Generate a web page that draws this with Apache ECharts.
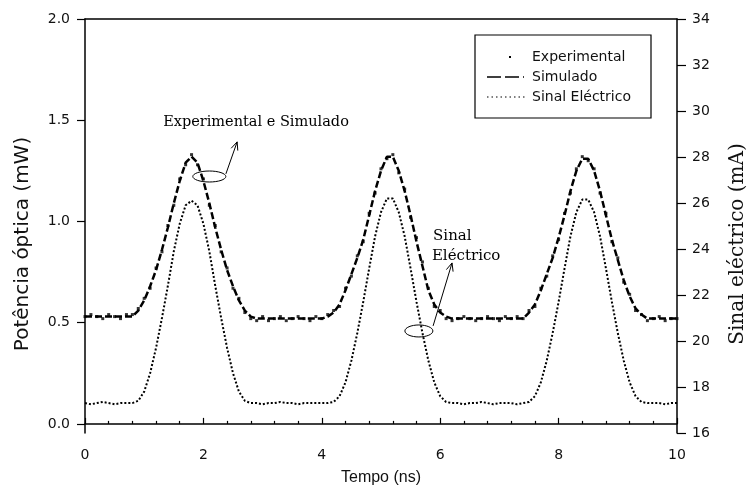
<!DOCTYPE html>
<html>
<head>
<meta charset="utf-8">
<script src="https://cdn.jsdelivr.net/npm/echarts@6/dist/echarts.min.js"></script>
<style>html,body{margin:0;padding:0;background:#fff;}#c{width:748px;height:497px;}</style>
</head>
<body>
<div id="c"></div>
<script>
// Time axis (ns)
var timeNs = [0.0,0.1,0.2,0.3,0.4,0.5,0.6,0.7,0.8,0.9,
  1.0,1.1,1.2,1.3,1.4,1.5,1.6,1.7,1.8,1.9,
  2.0,2.1,2.2,2.3,2.4,2.5,2.6,2.7,2.8,2.9,
  3.0,3.1,3.2,3.3,3.4,3.5,3.6,3.7,3.8,3.9,
  4.0,4.1,4.2,4.3,4.4,4.5,4.6,4.7,4.8,4.9,
  5.0,5.1,5.2,5.3,5.4,5.5,5.6,5.7,5.8,5.9,
  6.0,6.1,6.2,6.3,6.4,6.5,6.6,6.7,6.8,6.9,
  7.0,7.1,7.2,7.3,7.4,7.5,7.6,7.7,7.8,7.9,
  8.0,8.1,8.2,8.3,8.4,8.5,8.6,8.7,8.8,8.9,
  9.0,9.1,9.2,9.3,9.4,9.5,9.6,9.7,9.8,9.9,10.0];

// Experimental optical power (mW)
var experimental = [0.53,0.54,0.53,0.52,0.54,0.53,0.52,0.54,0.54,0.57,
  0.62,0.67,0.77,0.85,0.98,1.08,1.21,1.28,1.33,1.28,
  1.21,1.08,0.98,0.85,0.77,0.67,0.62,0.55,0.52,0.51,
  0.53,0.51,0.52,0.53,0.51,0.52,0.53,0.52,0.51,0.53,
  0.52,0.54,0.56,0.58,0.67,0.73,0.83,0.90,1.04,1.14,
  1.26,1.31,1.33,1.24,1.16,1.02,0.92,0.80,0.67,0.58,
  0.56,0.52,0.51,0.52,0.53,0.52,0.51,0.52,0.53,0.52,
  0.51,0.53,0.52,0.53,0.52,0.56,0.58,0.67,0.73,0.83,
  0.91,1.04,1.14,1.26,1.32,1.30,1.26,1.14,1.04,0.90,
  0.82,0.70,0.64,0.56,0.54,0.51,0.52,0.53,0.51,0.52,0.52];

// Simulated optical power (mW)
var simulado = [0.53,0.53,0.53,0.53,0.53,0.53,0.53,0.53,0.53,0.56,
  0.61,0.68,0.76,0.86,0.97,1.09,1.20,1.29,1.32,1.29,
  1.20,1.09,0.97,0.86,0.76,0.68,0.61,0.56,0.53,0.52,
  0.52,0.52,0.52,0.52,0.52,0.52,0.52,0.52,0.52,0.52,
  0.52,0.53,0.55,0.59,0.66,0.74,0.82,0.91,1.03,1.15,
  1.25,1.32,1.32,1.25,1.15,1.03,0.90,0.78,0.66,0.59,
  0.55,0.53,0.52,0.52,0.52,0.52,0.52,0.52,0.52,0.52,
  0.52,0.52,0.52,0.52,0.52,0.55,0.59,0.66,0.74,0.82,
  0.92,1.03,1.15,1.25,1.31,1.31,1.25,1.15,1.03,0.91,
  0.81,0.71,0.63,0.57,0.54,0.52,0.52,0.52,0.52,0.52,0.52];

// Electrical signal (mA)
var sinalElectrico = [17.3,17.25,17.3,17.35,17.3,17.25,17.3,17.3,17.3,17.4,
  17.8,18.6,19.7,21.0,22.4,23.9,25.1,25.9,26.1,25.9,
  25.1,23.9,22.4,21.0,19.7,18.6,17.8,17.4,17.3,17.3,
  17.25,17.3,17.3,17.35,17.3,17.3,17.25,17.3,17.3,17.3,
  17.3,17.3,17.35,17.6,18.2,19.15,20.35,21.7,23.15,24.55,
  25.6,26.2,26.2,25.6,24.55,23.15,21.7,20.35,19.15,18.2,
  17.6,17.35,17.3,17.3,17.25,17.3,17.3,17.35,17.3,17.25,
  17.3,17.3,17.3,17.25,17.3,17.35,17.6,18.2,19.15,20.35,
  21.7,23.15,24.55,25.6,26.15,26.15,25.6,24.55,23.15,21.7,
  20.35,19.15,18.2,17.6,17.35,17.3,17.3,17.3,17.25,17.3,17.3];

var xTicks = [0, 2, 4, 6, 8, 10];
var leftTicks = [0, 0.5, 1.0, 1.5, 2.0];
var seriesNames = ['Experimental', 'Simulado', 'Sinal Eléctrico'];

function pairs(xs, ys) { return xs.map(function (x, i) { return [x, ys[i]]; }); }

var SANS = 'DejaVu Sans';
var SERIF = 'DejaVu Serif';
var chart = echarts.init(document.getElementById('c'), null, { renderer: 'canvas' });

var option = {
  animation: false,
  backgroundColor: '#fff',
  grid: { left: 85, right: 71, top: 19, bottom: 64, containLabel: false, outerBoundsMode: 'none' },
  xAxis: [{
    type: 'value', min: 0, max: 10, interval: 2,
    name: 'Tempo (ns)', nameLocation: 'middle', nameGap: 37,
    nameTextStyle: { fontFamily: 'Liberation Sans', fontSize: 16, color: '#111' },
    axisLine: { lineStyle: { color: '#000', width: 1.5 } },
    axisTick: { inside: true, length: 6, lineStyle: { color: '#000', width: 1.2 } },
    minorTick: { show: true, splitNumber: 5, length: 3, lineStyle: { color: '#000', width: 1.2 } },
    axisLabel: { fontFamily: SANS, fontSize: 14, color: '#111', margin: 15,
      customValues: xTicks, formatter: function (v) { return String(v); } },
    splitLine: { show: false }
  }, {
    type: 'value', position: 'top', min: 0, max: 10,
    axisLine: { show: true, onZero: false, lineStyle: { color: '#000', width: 1.5 } },
    axisTick: { show: false }, axisLabel: { show: false }, splitLine: { show: false }
  }],
  yAxis: [{
    type: 'value', min: -0.045, max: 2.0, position: 'left',
    name: 'Potência óptica (mW)', nameLocation: 'middle', nameGap: 52,
    nameTextStyle: { fontFamily: SANS, fontSize: 20, color: '#111', padding: [0, 36, 0, 0] },
    axisLine: { show: true, onZero: false, lineStyle: { color: '#000', width: 1.5 } },
    axisTick: { show: true, inside: false, length: 8, customValues: leftTicks, lineStyle: { color: '#000', width: 1.2 } },
    axisLabel: { fontFamily: SANS, fontSize: 14, color: '#111', margin: 15,
      customValues: leftTicks, formatter: function (v) { return v.toFixed(1); } },
    splitLine: { show: false }
  }, {
    type: 'value', min: 16, max: 34, interval: 2, position: 'right',
    name: 'Sinal eléctrico (mA)', nameLocation: 'middle', nameGap: 51, nameRotate: 90,
    nameTextStyle: { fontFamily: SERIF, fontSize: 20, color: '#111', padding: [0, 36, 0, 0] },
    axisLine: { show: true, onZero: false, lineStyle: { color: '#000', width: 1.5 } },
    axisTick: { show: true, inside: false, length: 9, lineStyle: { color: '#000', width: 1.2 } },
    axisLabel: { fontFamily: SANS, fontSize: 14, color: '#111', margin: 15 },
    splitLine: { show: false }
  }],
  series: [{
    name: seriesNames[0], type: 'scatter', xAxisIndex: 0, yAxisIndex: 0,
    data: pairs(timeNs, experimental), symbol: 'rect', symbolSize: [3, 3],
    itemStyle: { color: '#000' }, z: 3
  }, {
    name: seriesNames[1], type: 'line', xAxisIndex: 0, yAxisIndex: 0,
    data: pairs(timeNs, simulado), showSymbol: false, symbol: 'none',
    lineStyle: { color: '#000', width: 2.5, type: [7, 3] }, z: 2
  }, {
    name: seriesNames[2], type: 'line', xAxisIndex: 0, yAxisIndex: 1,
    data: pairs(timeNs, sinalElectrico), showSymbol: false, symbol: 'none',
    lineStyle: { color: '#000', width: 2, type: [2, 2] }, z: 2
  }]
};
chart.setOption(option);

// Annotations and legend drawn as graphics, anchored to data coordinates
function px(x, y, yIdx) {
  return chart.convertToPixel({ xAxisIndex: 0, yAxisIndex: yIdx || 0 }, [x, y]);
}
function arrow(p0, p1) {
  var dx = p1[0] - p0[0], dy = p1[1] - p0[1];
  var L = Math.sqrt(dx * dx + dy * dy), ux = dx / L, uy = dy / L;
  var h = 8, w = 3.5;
  var bx = p1[0] - ux * h, by = p1[1] - uy * h;
  return [
    { type: 'line', shape: { x1: p0[0], y1: p0[1], x2: p1[0], y2: p1[1] }, style: { stroke: '#000', lineWidth: 1 } },
    { type: 'polyline', shape: { points: [[bx - uy * w, by + ux * w], p1, [bx + uy * w, by - ux * w]] }, style: { stroke: '#000', lineWidth: 1, fill: null } }
  ];
}
var e1 = px(2.10, 1.222), a1s = px(2.38, 1.235), a1e = px(2.57, 1.393), t1 = px(1.32, 1.49);
var e2 = px(5.64, 0.459), a2s = px(5.88, 0.484), a2e = px(6.20, 0.795), t2a = px(5.88, 0.928), t2b = px(5.86, 0.83);

var legLeft = 475, legTop = 35, legW = 176, legH = 83;
var legRows = [57, 77, 97];
var elements = [
  { type: 'ellipse', shape: { cx: e1[0], cy: e1[1], rx: 16.5, ry: 5.5 }, style: { stroke: '#000', lineWidth: 1, fill: null }, z: 10 },
  { type: 'ellipse', shape: { cx: e2[0], cy: e2[1], rx: 14, ry: 6 }, style: { stroke: '#000', lineWidth: 1, fill: null }, z: 10 },
  { type: 'text', x: t1[0], y: t1[1], style: { text: 'Experimental e Simulado', font: '14.5px "' + SERIF + '"', fill: '#000', textAlign: 'left', textVerticalAlign: 'middle' }, z: 10 },
  { type: 'text', x: t2a[0], y: t2a[1], style: { text: 'Sinal', font: '15px "' + SERIF + '"', fill: '#000', textAlign: 'left', textVerticalAlign: 'middle' }, z: 10 },
  { type: 'text', x: t2b[0], y: t2b[1], style: { text: 'Eléctrico', font: '15px "' + SERIF + '"', fill: '#000', textAlign: 'left', textVerticalAlign: 'middle' }, z: 10 },
  // legend
  { type: 'rect', shape: { x: legLeft, y: legTop, width: legW, height: legH }, style: { stroke: '#000', lineWidth: 1.2, fill: '#fff' }, z: 11 },
  { type: 'rect', shape: { x: 509, y: legRows[0] - 1, width: 2, height: 2 }, style: { fill: '#000' }, z: 12 },
  { type: 'line', shape: { x1: 487, y1: legRows[1], x2: 524, y2: legRows[1] }, style: { stroke: '#000', lineWidth: 1.5, lineDash: [14, 4] }, z: 12 },
  { type: 'line', shape: { x1: 487, y1: legRows[2], x2: 525, y2: legRows[2] }, style: { stroke: '#000', lineWidth: 1.2, lineDash: [1.5, 3] }, z: 12 }
];
seriesNames.forEach(function (n, i) {
  elements.push({ type: 'text', x: 532, y: legRows[i], style: { text: n, font: '14px "' + SANS + '"', fill: '#111', textAlign: 'left', textVerticalAlign: 'middle' }, z: 12 });
});
elements = elements.concat(arrow(a1s, a1e), arrow(a2s, a2e));
chart.setOption({ graphic: { elements: elements } });
</script>
</body>
</html>
